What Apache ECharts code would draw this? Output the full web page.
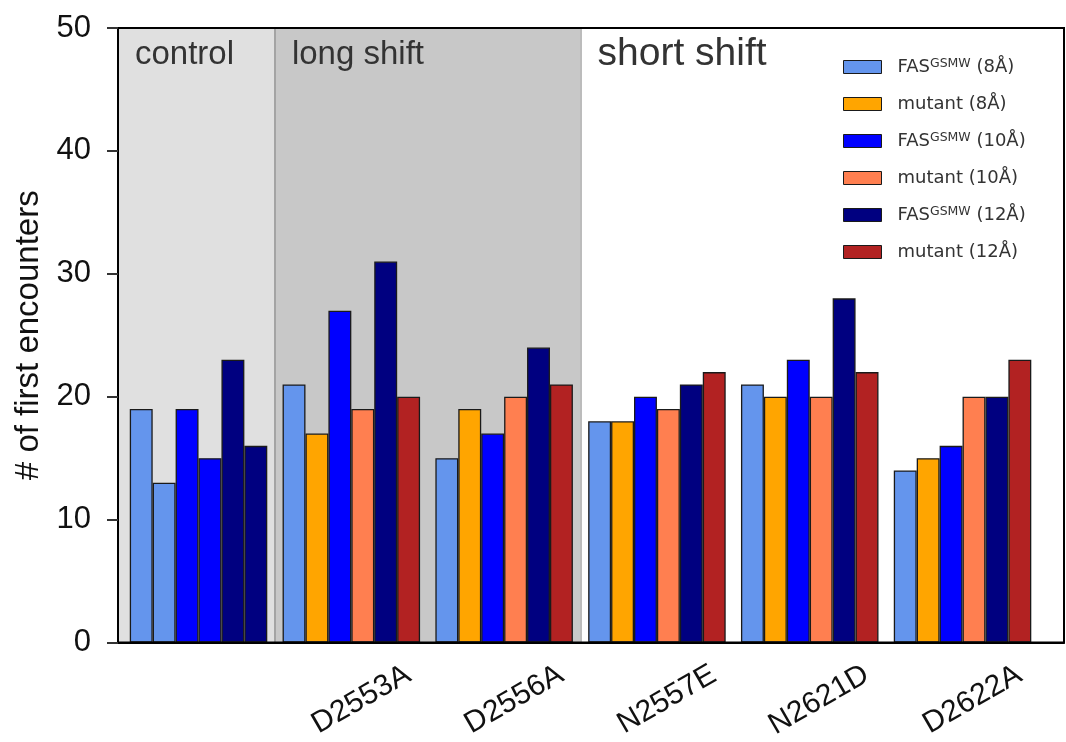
<!DOCTYPE html>
<html>
<head>
<meta charset="utf-8">
<script src="https://cdn.jsdelivr.net/npm/echarts@6/dist/echarts.min.js"></script>
<style>
html,body{margin:0;padding:0;background:#fff;}
#chart{width:1066px;height:742px;}
</style>
</head>
<body>
<div id="chart"></div>
<script>
// ---- data ----
const categories = ['', 'D2553A', 'D2556A', 'N2557E', 'N2621D', 'D2622A'];
const seriesNames = ['FAS8', 'mut8', 'FAS10', 'mut10', 'FAS12', 'mut12'];
const legendLabels = ['FAS{sup|GSMW} (8Å)', 'mutant (8Å)', 'FAS{sup|GSMW} (10Å)', 'mutant (10Å)', 'FAS{sup|GSMW} (12Å)', 'mutant (12Å)'];
const fas8  = [19, 21, 15, 18, 21, 14];
const mut8  = [13, 17, 19, 18, 20, 15];
const fas10 = [19, 27, 17, 20, 23, 16];
const mut10 = [15, 19, 20, 19, 20, 20];
const fas12 = [23, 31, 24, 21, 28, 20];
const mut12 = [16, 20, 21, 22, 22, 23];
const yTicks = [0, 10, 20, 30, 40, 50];
const regionNames = ['control', 'long shift', 'short shift'];
const regionFirstCat = [0, 1, 3];
const regionLastCat = [0, 2, 5];

// ---- style ----
const colors = ['#6495ED', '#FFA500', '#0000FF', '#FF7F50', '#000080', '#B22222'];
const regionFill = ['#e0e0e0', '#c8c8c8', 'rgba(0,0,0,0)'];
const regionFont = [33, 33, 39];
const regionPadTop = [10, 10, 7];
const values = [fas8, mut8, fas10, mut10, fas12, mut12];
const X_MIN = -0.527, X_MAX = 5.664;
const LABEL_SHIFT = 0.373;

const areaData = regionNames.map((n, i) => {
  const from = i === 0 ? X_MIN : regionFirstCat[i] - 0.5;
  const to = i === regionNames.length - 1 ? X_MAX : regionLastCat[i] + 0.5;
  return [{
    xAxis: from,
    itemStyle: {color: regionFill[i]},
    label: {
      show: true, formatter: n, position: 'insideTopLeft', distance: 0,
      padding: [regionPadTop[i], 0, 0, 17], fontSize: regionFont[i], color: '#333',
      fontFamily: 'Liberation Sans'
    }
  }, {xAxis: to}];
});
const boundaryLines = regionFirstCat.slice(1).map((c, i) => ({
  xAxis: c - 0.5,
  lineStyle: {color: i === 0 ? '#a4a4a4' : '#bcbcbc', width: 2, type: 'solid'}
}));

const series = seriesNames.map((name, si) => {
  const s = {
    name: name,
    type: 'bar',
    barGap: '0%',
    barCategoryGap: '10%',
    itemStyle: {color: colors[si], borderColor: '#1a1a1a', borderWidth: 1.3},
    data: values[si].map((v, ci) => {
      const d = {value: [ci, v]};
      // in the control group both bars of a pair use the wild-type colour
      if (ci === 0 && si % 2 === 1) d.itemStyle = {color: colors[si - 1]};
      return d;
    })
  };
  if (si === 0) {
    s.markArea = {silent: true, z: 0, data: areaData};
  }
  return s;
});
series.push({
  name: 'boundaries', type: 'line', data: [], z: 1,
  markLine: {silent: true, symbol: 'none', label: {show: false}, data: boundaryLines, animation: false}
});

const chart = echarts.init(document.getElementById('chart'), null, {renderer: 'canvas'});
chart.setOption({
  animation: false,
  backgroundColor: '#fff',
  grid: {left: 118, right: 2, top: 28, bottom: 99, show: true, borderColor: '#000', borderWidth: 2, z: 10, backgroundColor: 'rgba(0,0,0,0)'},
  legend: {
    orient: 'vertical', left: 843, top: 57, padding: 0,
    itemWidth: 38, itemHeight: 13, itemGap: 17,
    icon: 'rect',
    itemStyle: {borderColor: '#1a1a1a', borderWidth: 1},
    data: seriesNames,
    formatter: n => legendLabels[seriesNames.indexOf(n)],
    textStyle: {
      fontFamily: 'DejaVu Sans', fontSize: 18, color: '#333', lineHeight: 20,
      padding: [0, 0, 0, 11],
      rich: {sup: {fontSize: 12.5, fontFamily: 'DejaVu Sans', color: '#333', verticalAlign: 'top', lineHeight: 20}}
    }
  },
  xAxis: {
    type: 'value', min: X_MIN, max: X_MAX,
    axisLine: {show: true, onZero: false, lineStyle: {color: '#000', width: 2}},
    axisTick: {show: false},
    splitLine: {show: false},
    axisLabel: {
      customValues: categories.map((c, i) => i + LABEL_SHIFT).filter((v, i) => categories[i] !== ''),
      formatter: v => categories[Math.round(v - LABEL_SHIFT)],
      rotate: 30, margin: 30, fontSize: 30, color: '#111', fontFamily: 'Liberation Sans'
    },
    z: 10
  },
  yAxis: {
    type: 'value', min: yTicks[0], max: yTicks[yTicks.length - 1], interval: 10,
    name: '# of first encounters', nameLocation: 'middle', nameGap: 68,
    nameTextStyle: {fontSize: 33, color: '#111', fontFamily: 'Liberation Sans'},
    axisLine: {show: true, onZero: false, lineStyle: {color: '#000', width: 2}},
    axisTick: {show: true, length: 11, lineStyle: {color: '#333', width: 2}},
    splitLine: {show: false},
    axisLabel: {margin: 27, fontSize: 31, color: '#111', fontFamily: 'Liberation Sans'},
    z: 10
  },
  series: series
});
</script>
</body>
</html>
